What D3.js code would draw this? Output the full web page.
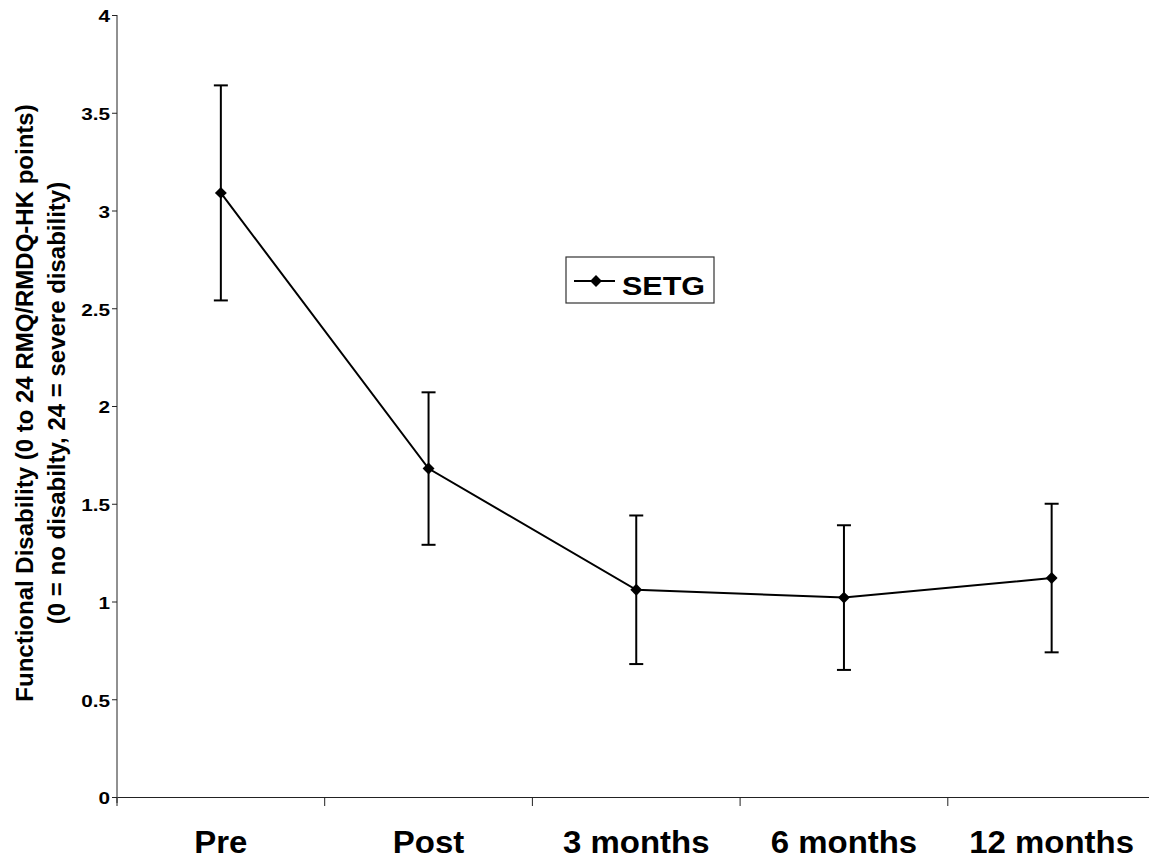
<!DOCTYPE html>
<html>
<head>
<meta charset="utf-8">
<script src="https://cdn.jsdelivr.net/npm/d3@7"></script>
<style>
  body { margin: 0; background: #fff; }
  text { font-family: "Liberation Sans", Arial, sans-serif; font-weight: bold; fill: #000; }
</style>
</head>
<body>
<svg id="chart" width="1149" height="861"></svg>
<script>
// data
const categories = ['Pre', 'Post', '3 months', '6 months', '12 months'];
const means = [3.09, 1.68, 1.06, 1.02, 1.12];
const errors = [0.55, 0.39, 0.38, 0.37, 0.38];
const yTicks = [0, 0.5, 1, 1.5, 2, 2.5, 3, 3.5, 4];
const seriesName = 'SETG';

const stretch = 1.22; // the scanned small text is wider than plain Arial

const svg = d3.select('#chart');

const x = d3.scaleBand().domain(categories).range([117, 1155.5]);
const y = d3.scaleLinear().domain([0, 4]).range([797, 15]);
const cx = d => x(d) + x.bandwidth() / 2;

// y axis
const yAxis = svg.append('g')
  .attr('transform', 'translate(117,0)')
  .call(d3.axisLeft(y).tickValues(yTicks).tickFormat(d3.format('')).tickSize(5).tickPadding(5));
yAxis.select('.domain').attr('d', 'M0,' + y(4) + 'V' + (y(0) + 6)).attr('stroke', '#222');
yAxis.selectAll('.tick line').attr('stroke', '#222');
yAxis.selectAll('.tick text')
  .style('font-size', '17px')
  .attr('font-family', null)
  .attr('x', -7 / stretch)
  .attr('dy', '0.4em')
  .attr('transform', 'scale(' + stretch + ',1)');

// x axis
const xAxis = svg.append('g')
  .attr('transform', 'translate(0,' + y(0) + ')')
  .call(d3.axisBottom(x).tickSize(0).tickFormat(''));
xAxis.select('.domain').attr('stroke', '#222');
xAxis.selectAll('.tick').remove();
xAxis.selectAll('.sep')
  .data(categories)
  .join('line')
  .attr('x1', d => x(d)).attr('x2', d => x(d))
  .attr('y1', 0).attr('y2', 9)
  .attr('stroke', '#222');

svg.append('g').selectAll('text')
  .data(categories)
  .join('text')
  .attr('transform', d => 'translate(' + cx(d) + ',853) scale(1.03,1)')
  .attr('text-anchor', 'middle')
  .style('font-size', '32px')
  .text(d => d);

// y title
const title = svg.append('text')
  .attr('transform', 'translate(0,403) rotate(-90)')
  .attr('text-anchor', 'middle')
  .style('font-size', '24px');
title.append('tspan').attr('x', 0).attr('y', 33).text('Functional Disability (0 to 24 RMQ/RMDQ-HK points)');
title.append('tspan').attr('x', 0).attr('y', 65).text('(0 = no disabilty, 24 = severe disability)');

// error bars
const eb = svg.append('g').attr('stroke', '#000').attr('stroke-width', 2);
categories.forEach((c, i) => {
  const px = cx(c);
  const top = y(means[i] + errors[i]);
  const bot = y(means[i] - errors[i]);
  eb.append('line').attr('x1', px).attr('x2', px).attr('y1', top).attr('y2', bot);
  eb.append('line').attr('x1', px - 7).attr('x2', px + 7).attr('y1', top).attr('y2', top);
  eb.append('line').attr('x1', px - 7).attr('x2', px + 7).attr('y1', bot).attr('y2', bot);
});

// line
const line = d3.line().x((d, i) => cx(categories[i])).y(d => y(d));
svg.append('path')
  .datum(means)
  .attr('d', line)
  .attr('fill', 'none')
  .attr('stroke', '#000')
  .attr('stroke-width', 2);

const diamond = d3.symbol().type(d3.symbolDiamond2).size(90);
svg.append('g').selectAll('path')
  .data(means)
  .join('path')
  .attr('d', diamond)
  .attr('transform', (d, i) => 'translate(' + cx(categories[i]) + ',' + y(d) + ')')
  .attr('fill', '#000');

// legend
const lg = svg.append('g').attr('transform', 'translate(566,257)');
lg.append('rect').attr('width', 148).attr('height', 46)
  .attr('fill', '#fff').attr('stroke', '#333').attr('stroke-width', 1.2);
lg.append('line').attr('x1', 8).attr('x2', 49).attr('y1', 24).attr('y2', 24)
  .attr('stroke', '#000').attr('stroke-width', 2);
lg.append('path').attr('d', diamond).attr('transform', 'translate(30,24)').attr('fill', '#000');
lg.append('text').attr('transform', 'translate(56,38) scale(' + stretch + ',1)')
  .style('font-size', '25px').text(seriesName);
</script>
</body>
</html>
